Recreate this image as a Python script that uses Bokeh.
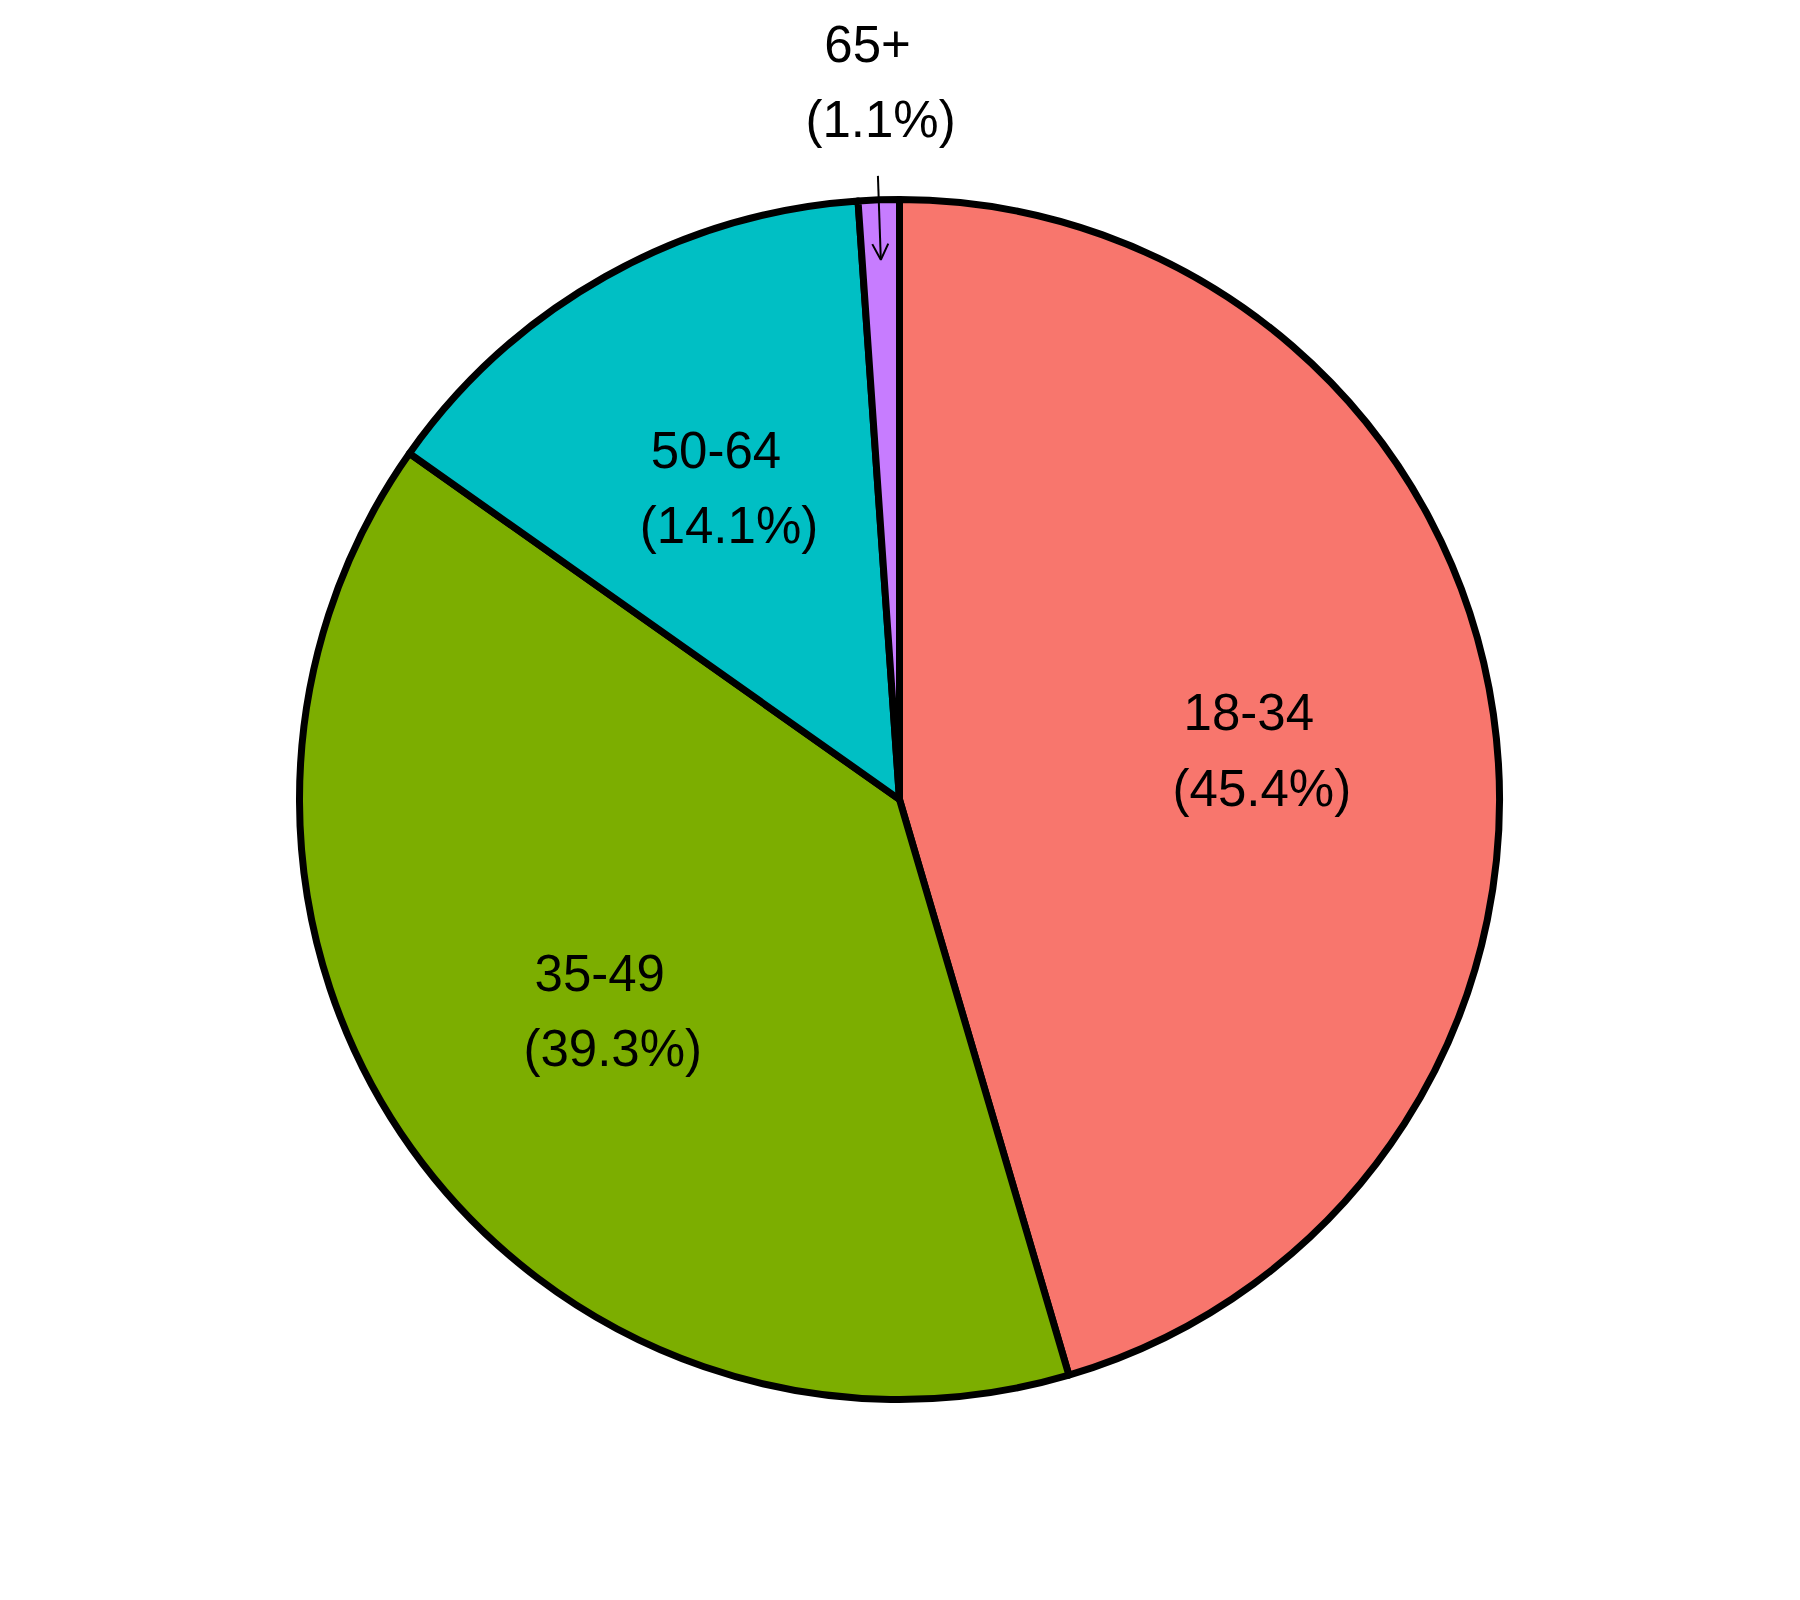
import numpy as np
from bokeh.plotting import figure
from bokeh.models import Range1d, ColumnDataSource, Arrow, OpenHead
from bokeh.core.properties import value
from bokeh.embed import file_html
from bokeh.resources import INLINE

# ---- data ----
categories = ["18-34", "35-49", "50-64", "65+"]
percents = [45.4, 39.3, 14.1, 1.1]
colors = ["#F8766D", "#7CAE00", "#00BFC4", "#C77CFF"]

# ---- geometry ----
W, H = 1784, 1584
cx, cy, R = 899.0, 1600 - 799.0, 600.0

p = figure(width=W, height=H, output_backend="svg", toolbar_location=None,
           x_range=Range1d(0, W), y_range=Range1d(1600 - H, 1600),
           min_border=0)
p.axis.visible = False
p.grid.visible = False
p.outline_line_color = None
p.background_fill_color = "white"
p.border_fill_color = "white"

frac = np.array(percents) / sum(percents)
cum_after = np.cumsum(frac)
cum_before = cum_after - frac
start = np.pi / 2 - 2 * np.pi * cum_before
end = np.pi / 2 - 2 * np.pi * cum_after
mid = (start + end) / 2

src = ColumnDataSource(dict(x=[cx] * len(categories), y=[cy] * len(categories),
                            start=start, end=end, color=colors))
p.wedge(x="x", y="y", radius=R, start_angle="start", end_angle="end",
        direction="clock", fill_color="color", line_color="black",
        line_width=7, line_join="round", source=src)

# label positions: inside at 0.6R, small slice outside at 1.2R with arrow
rfac = np.where(frac < 0.05, 1.2, 0.6)
lx = cx + rfac * R * np.cos(mid)
ly = cy + rfac * R * np.sin(mid)
line1 = categories
line2 = ["(%.1f%%)" % v for v in percents]

font = value("Liberation Sans")
p.text(x=lx, y=ly, text=line1, text_font=font, text_font_size="51px",
       text_align="center", text_baseline="alphabetic", text_color="black",
       x_offset=-7, y_offset=-36)
p.text(x=lx, y=ly, text=line2, text_font=font, text_font_size="51px",
       text_align="center", text_baseline="alphabetic", text_color="black",
       x_offset=6, y_offset=40)

for i, f in enumerate(frac):
    if f < 0.05:
        a = mid[i]
        p.add_layout(Arrow(end=OpenHead(size=16, line_width=2, line_color="black"),
                           x_start=cx + 1.04 * R * np.cos(a), y_start=cy + 1.04 * R * np.sin(a),
                           x_end=cx + 0.9 * R * np.cos(a), y_end=cy + 0.9 * R * np.sin(a),
                           line_width=2, line_color="black"))

open("out.html", "w").write(file_html(p, INLINE))
